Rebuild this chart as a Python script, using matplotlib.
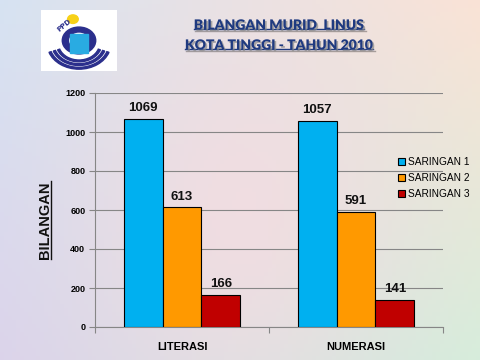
import matplotlib
matplotlib.use("Agg")
import matplotlib.pyplot as plt
import matplotlib.patheffects as pe
from matplotlib.patches import Rectangle, Wedge, Circle
from matplotlib.lines import Line2D
import numpy as np

categories = ["LITERASI", "NUMERASI"]
series_names = ["SARINGAN 1", "SARINGAN 2", "SARINGAN 3"]
saringan_1 = [1069, 1057]
saringan_2 = [613, 591]
saringan_3 = [166, 141]
series_values = [saringan_1, saringan_2, saringan_3]
colors = ["#00B0F0", "#FF9900", "#C00000"]

fig = plt.figure(figsize=(4.8, 3.6), dpi=100)

# pastel background
bg = fig.add_axes([0, 0, 1, 1], zorder=-10)
h, w = 90, 120
yy, xx = np.mgrid[0:1:h * 1j, 0:1:w * 1j]
tl = np.array([0.84, 0.89, 0.95])
tr = np.array([0.98, 0.89, 0.84])
bl = np.array([0.86, 0.83, 0.92])
br = np.array([0.84, 0.93, 0.86])
img = (tl * ((1 - xx) * (1 - yy))[..., None] + tr * (xx * (1 - yy))[..., None]
       + bl * ((1 - xx) * yy)[..., None] + br * (xx * yy)[..., None])
pink = np.array([0.97, 0.86, 0.88])
wgt = np.exp(-(((xx - 0.5) / 0.3) ** 2 + ((yy - 0.6) / 0.5) ** 2))[..., None]
img = img * (1 - wgt * 0.7) + pink * wgt * 0.7
bg.imshow(img, aspect="auto", extent=[0, 1, 0, 1], origin="upper")
bg.set_xlim(0, 1)
bg.set_ylim(0, 1)
bg.axis("off")

# logo placeholder
logo = fig.add_axes([41 / 480, 1 - 71 / 360, 76 / 480, 61 / 360])
logo.set_xlim(0, 1)
logo.set_ylim(0, 1)
logo.add_patch(Rectangle((0, 0), 1, 1, color="white"))
for r in [0.42, 0.36, 0.30]:
    logo.add_patch(Wedge((0.5, 0.45), r, 200, 340, width=0.03, color="#2B2F8C"))
logo.add_patch(Wedge((0.5, 0.5), 0.22, 0, 360, width=0.08, color="#2B2F8C"))
logo.add_patch(Rectangle((0.38, 0.3), 0.24, 0.3, color="#29ABE2"))
logo.add_patch(Circle((0.42, 0.85), 0.07, color="#F7D117"))
logo.text(0.2, 0.65, "PPD", fontsize=5, fontweight="bold", color="#2B2F8C", rotation=40)
logo.axis("off")

ax = fig.add_axes([95 / 480, 1 - 327 / 360, 348 / 480, 234 / 360])
ax.patch.set_alpha(0)
x = np.arange(len(categories))
bw = 0.224
for i, (name, vals) in enumerate(zip(series_names, series_values)):
    pos = x + (i - 1) * bw
    ax.bar(pos, vals, bw, color=colors[i], edgecolor="black", linewidth=0.8,
           label=name, zorder=3)
    for p, v in zip(pos, vals):
        ax.text(p, v + 25, str(v), ha="center", va="bottom", fontsize=9.5,
                fontweight="bold", family="Liberation Sans", color="#111111")

ax.set_xlim(-0.5, 1.5)
ax.set_ylim(0, 1200)
ax.set_yticks(range(0, 1201, 200))
ax.yaxis.grid(True, color="#868686", linewidth=0.8, zorder=0)
ax.set_axisbelow(True)
ax.set_xticks([-0.5, 0.5, 1.5])
ax.set_xticklabels([])
ax.set_xticks(x, minor=True)
ax.set_xticklabels(categories, minor=True)
ax.tick_params(axis="x", which="minor", length=0, pad=11)
ax.tick_params(axis="x", which="major", length=4, color="#868686", direction="out")
ax.tick_params(axis="y", length=4, color="#868686", pad=3)
for lbl in ax.get_xticklabels(minor=True):
    lbl.set_fontsize(8)
    lbl.set_fontweight("bold")
    lbl.set_family("Liberation Sans")
for lbl in ax.get_yticklabels():
    lbl.set_fontsize(6.5)
    lbl.set_fontweight("bold")
    lbl.set_family("Liberation Sans")
for s in ["top", "right"]:
    ax.spines[s].set_visible(False)
for s in ["left", "bottom"]:
    ax.spines[s].set_color("#868686")

ax.legend(loc="center left", bbox_to_anchor=(303 / 348, 0.637), frameon=False,
          prop={"family": "Liberation Sans", "size": 7.3}, handlelength=0.7,
          handleheight=0.7, handletextpad=0.3, labelspacing=0.62, borderaxespad=0,
          borderpad=0)

shadow = [pe.SimplePatchShadow(offset=(1.2, -1.2), shadow_rgbFace="#8a8a8a", alpha=0.7), pe.Normal()]
t1 = fig.text(279 / 480, 1 - 25 / 360, "BILANGAN MURID  LINUS", ha="center", va="center",
              fontsize=10, fontweight="heavy", family="Lato", color="#1F3A80", path_effects=shadow)
t2 = fig.text(279 / 480, 1 - 45 / 360, "KOTA TINGGI - TAHUN 2010", ha="center", va="center",
              fontsize=10, fontweight="heavy", family="Lato", color="#1F3A80", path_effects=shadow)
yl = fig.text(45 / 480, 1 - 220 / 360, "BILANGAN", ha="center", va="center", rotation=90,
              fontsize=10.5, fontweight="bold", family="Liberation Sans", color="#111111")

fig.canvas.draw()
r = fig.canvas.get_renderer()
for t, c in [(t1, "#1F3A80"), (t2, "#1F3A80")]:
    bb = t.get_window_extent(r).transformed(fig.transFigure.inverted())
    fig.add_artist(Line2D([bb.x0, bb.x1], [bb.y0 + 0.006, bb.y0 + 0.006], color=c,
                          linewidth=1.0, transform=fig.transFigure,
                          path_effects=[pe.SimpleLineShadow(offset=(1, -1)), pe.Normal()]))
bb = yl.get_window_extent(r).transformed(fig.transFigure.inverted())
fig.add_artist(Line2D([bb.x1 - 0.002, bb.x1 - 0.002], [bb.y0, bb.y1], color="#111111",
                      linewidth=1.0, transform=fig.transFigure))

fig.savefig("out.png", dpi=100)
